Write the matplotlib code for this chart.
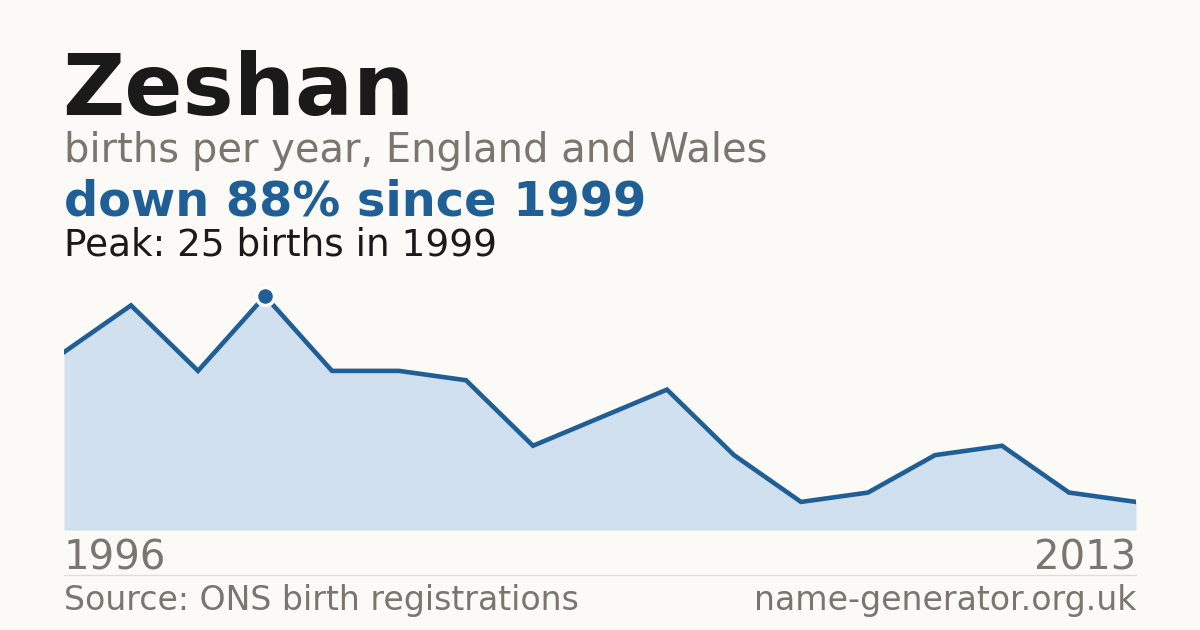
import matplotlib
matplotlib.use("Agg")
import matplotlib.pyplot as plt

# ---- data ----
years = [1996, 1997, 1998, 1999, 2000, 2001, 2002, 2003, 2004,
         2005, 2006, 2007, 2008, 2009, 2010, 2011, 2013]
births = [19, 24, 17, 25, 17, 17, 16, 9, 12, 15, 8, 3, 4, 8, 9, 4, 3]
name = "Zeshan"
subtitle = "births per year, England and Wales"
headline = "down 88% since 1999"
peak_text = "Peak: 25 births in 1999"
first_label = "1996"
last_label = "2013"
source = "Source: ONS birth registrations"
site = "name-generator.org.uk"

BG = "#fbfaf6"
BLUE = "#1f5f96"
FILL = "#d0e0ef"
GREY = "#7a756e"
DARK = "#1a1a1a"

W, H = 1200, 630
fig = plt.figure(figsize=(12, 6.3), dpi=100, facecolor=BG)

def fx(px):
    return px / W

def fy(py):
    return 1 - py / H

# plot area: x 64..1136, y 280..530
top_px, bot_px = 280, 530
ax = fig.add_axes([fx(64), fy(bot_px), fx(1136) - fx(64), (bot_px - top_px) / H])
ax.set_facecolor("none")
idx = list(range(len(births)))
peak_val = max(births)
ymax = peak_val * (bot_px - top_px) / (bot_px - 296)
ax.fill_between(idx, births, 0, color=FILL, linewidth=0, zorder=1)
ax.plot(idx, births, color=BLUE, lw=3.3, solid_joinstyle="miter", zorder=2)
pi = births.index(peak_val)
ax.plot([idx[pi]], [births[pi]], "o", ms=13, color=BLUE, mec="white", mew=2.5, zorder=3, clip_on=False)
ax.set_xlim(0, len(births) - 1)
ax.set_ylim(0, ymax)
ax.axis("off")

# texts
fam = "DejaVu Sans"
fig.text(fx(62), fy(115), name, fontsize=61.8, fontweight="bold", color=DARK, family=fam, va="baseline")
fig.text(fx(64), fy(162), subtitle, fontsize=28.8, color=GREY, family=fam, va="baseline")
fig.text(fx(64), fy(216), headline, fontsize=34.5, fontweight="bold", color=BLUE, family=fam, va="baseline")
fig.text(fx(64), fy(256), peak_text, fontsize=26.9, color=DARK, family=fam, va="baseline")
fig.text(fx(64), fy(570), first_label, fontsize=28.9, color=GREY, family=fam, va="baseline")
fig.text(fx(1136), fy(570), last_label, fontsize=28.9, color=GREY, family=fam, va="baseline", ha="right")
fig.add_artist(plt.Line2D([fx(64), fx(1136)], [fy(574.5), fy(574.5)], color="#dedcd6", lw=1))
fig.text(fx(64), fy(610), source, fontsize=23.9, color=GREY, family=fam, va="baseline")
fig.text(fx(1136), fy(610), site, fontsize=23.9, color=GREY, family=fam, va="baseline", ha="right")

fig.savefig("out.png", dpi=100, facecolor=BG)
